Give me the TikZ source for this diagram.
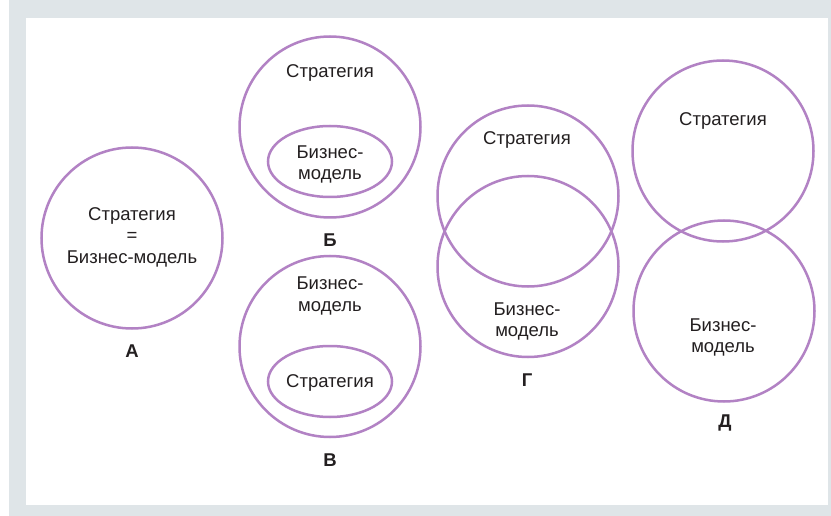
\documentclass[tikz,border=0pt]{standalone}
\usepackage{fontspec}
\setmainfont{Liberation Sans}
\usetikzlibrary{shapes.geometric}
\definecolor{lilac}{RGB}{178,130,196}
\definecolor{frame}{RGB}{223,229,232}
\definecolor{ink}{RGB}{35,31,32}
\begin{document}
\begin{tikzpicture}[x=1pt, y=-1pt,
                    ring/.style={circle, draw=lilac, line width=2.5pt, inner sep=0pt, minimum size=181pt},
                    oval/.style={ellipse, draw=lilac, line width=2.5pt, inner sep=0pt, minimum width=124pt, minimum height=71pt},
                    txt/.style={text=ink, align=center, inner sep=0pt, font=\fontsize{18.5}{21.5}\selectfont},
                    tag/.style={txt, font=\fontsize{18.5}{21.5}\selectfont\bfseries}]
                    \useasboundingbox (0,0) rectangle (831,516);
                    \fill[frame] (9,0) rectangle (831,516);
                    \fill[white] (26,18) rectangle (828,505);
                    % A
                    \node[ring] (a) at (132,238) {};
                    \node[txt] (a_text) at (132,237) {Стратегия\\=\\Бизнес-модель};
                    \node[tag] (a_tag) at (132,351) {А};
                    % B
                    \node[ring] (b_outer) at (330,127) {};
                    \node[oval] (b_inner) at (330,161.5) {};
                    \node[txt] (b_strat) at (330,73) {Стратегия};
                    \node[txt] (b_model) at (330,164.5) {Бизнес-\\модель};
                    \node[tag] (b_tag) at (330,240) {Б};
                    % V
                    \node[ring] (v_outer) at (330,346.5) {};
                    \node[oval] (v_inner) at (330,381.5) {};
                    \node[txt] (v_model) at (330,296) {Бизнес-\\модель};
                    \node[txt] (v_strat) at (330,383) {Стратегия};
                    \node[tag] (v_tag) at (330,460) {В};
                    % G
                    \node[ring] (g_top) at (528,196) {};
                    \node[ring] (g_bottom) at (528,266.5) {};
                    \node[txt] (g_strat) at (527,140) {Стратегия};
                    \node[txt] (g_model) at (527,321.5) {Бизнес-\\модель};
                    \node[tag] (g_tag) at (527,380) {Г};
                    % D
                    \node[ring] (d_top) at (723,151) {};
                    \node[ring] (d_bottom) at (724,311) {};
                    \node[txt] (d_strat) at (723,121) {Стратегия};
                    \node[txt] (d_model) at (723,337.5) {Бизнес-\\модель};
                    \node[tag] (d_tag) at (725,423) {Д};
                \end{tikzpicture}
\end{document}
